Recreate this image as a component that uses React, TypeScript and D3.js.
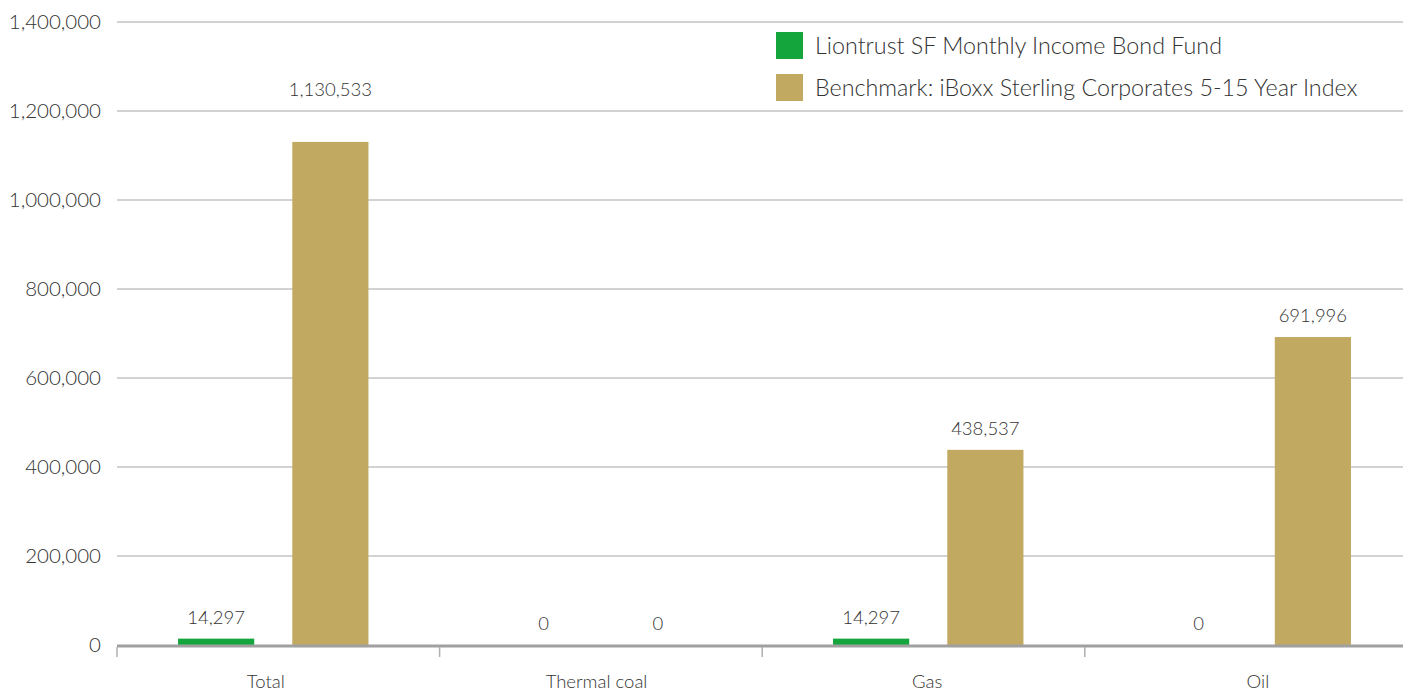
import * as d3 from 'd3';
import React, { useRef, useEffect } from 'react';

const categories = ['Total', 'Thermal coal', 'Gas', 'Oil'];
const fundValues = [14297, 0, 14297, 0];
const benchmarkValues = [1130533, 0, 438537, 691996];
const seriesNames = [
  'Liontrust SF Monthly Income Bond Fund',
  'Benchmark: iBoxx Sterling Corporates 5-15 Year Index',
];
const yTicks = [0, 200000, 400000, 600000, 800000, 1000000, 1200000, 1400000];

const colors = ['#14a53c', '#c2a961'];
const font = 'Lato, "Open Sans", sans-serif';

function BarChart({ width, height }: { width: number; height: number }) {
  const ref = useRef<SVGSVGElement>(null);

  useEffect(() => {
    const svg = d3.select(ref.current);
    svg.selectAll('*').remove();

    const left = 117;
    const right = 1403;
    const top = 22;
    const bottom = 645;

    // tick positions, bar groups and labels sit on slightly different grids
    const xTicks = d3.scaleBand<string>().domain(categories).range([left, left + 4 * 322.6]);
    const xBars = d3.scaleBand<string>().domain(categories).range([109.5, 109.5 + 4 * 327.5]);
    const xLabels = d3.scaleBand<string>().domain(categories).range([100.5, 100.5 + 4 * 330.7]);
    const inner = d3
      .scaleBand<number>()
      .domain([0, 1])
      .range([0, xBars.bandwidth()])
      .paddingInner(1 / 3)
      .paddingOuter(0.6);
    const y = d3.scaleLinear().domain([0, 1400000]).range([bottom, top]);

    // grid
    svg
      .append('g')
      .selectAll('line')
      .data(yTicks.filter((t) => t > 0))
      .enter()
      .append('line')
      .attr('x1', left)
      .attr('x2', right)
      .attr('y1', (d) => y(d))
      .attr('y2', (d) => y(d))
      .attr('stroke', '#a6a6a6')
      .attr('stroke-width', 1);

    // y labels
    svg
      .append('g')
      .selectAll('text')
      .data(yTicks)
      .enter()
      .append('text')
      .attr('x', 101)
      .attr('y', (d) => y(d) + 7)
      .attr('text-anchor', 'end')
      .attr('font-family', font)
      .attr('font-size', 20.5)
      .attr('font-weight', 300)
      .attr('fill', '#333')
      .text((d) => d3.format(',')(d));

    const series = [fundValues, benchmarkValues];
    series.forEach((vals, si) => {
      const g = svg.append('g');
      g.selectAll('rect')
        .data(vals)
        .enter()
        .append('rect')
        .attr('x', (d, i) => xBars(categories[i])! + inner(si)!)
        .attr('width', inner.bandwidth())
        .attr('y', (d) => y(d))
        .attr('height', (d) => bottom - y(d))
        .attr('fill', colors[si]);

      g.selectAll('text')
        .data(vals)
        .enter()
        .append('text')
        .attr('x', (d, i) => xBars(categories[i])! + inner(si)! + inner.bandwidth() / 2)
        .attr('y', (d) => y(d) - (d > 1000000 ? 46 : 15))
        .attr('text-anchor', 'middle')
        .attr('font-family', font)
        .attr('font-size', 18.5)
        .attr('font-weight', 300)
        .attr('fill', '#333')
        .text((d) => d3.format(',')(d));
    });

    // axis
    svg
      .append('line')
      .attr('x1', left)
      .attr('x2', right)
      .attr('y1', bottom + 1)
      .attr('y2', bottom + 1)
      .attr('stroke', '#a0a0a0')
      .attr('stroke-width', 3);

    svg
      .append('g')
      .selectAll('line')
      .data(categories)
      .enter()
      .append('line')
      .attr('x1', (d) => xTicks(d)!)
      .attr('x2', (d) => xTicks(d)!)
      .attr('y1', bottom + 2)
      .attr('y2', bottom + 12)
      .attr('stroke', '#b0b0b0')
      .attr('stroke-width', 1.5);

    svg
      .append('g')
      .selectAll('text')
      .data(categories)
      .enter()
      .append('text')
      .attr('x', (d) => xLabels(d)! + xLabels.bandwidth() / 2)
      .attr('y', 688)
      .attr('text-anchor', 'middle')
      .attr('font-family', font)
      .attr('font-size', 18.5)
      .attr('font-weight', 300)
      .attr('fill', '#333')
      .text((d) => d);

    // legend
    const legend = svg.append('g').attr('transform', 'translate(776, 32)');
    seriesNames.forEach((name, i) => {
      legend
        .append('rect')
        .attr('x', 0)
        .attr('y', i * 42)
        .attr('width', 27)
        .attr('height', 27)
        .attr('fill', colors[i]);
      legend
        .append('text')
        .attr('x', 39)
        .attr('y', i * 42 + 22)
        .attr('font-family', font)
        .attr('font-size', 23.3)
        .attr('font-weight', 300)
        .attr('fill', '#333')
        .text(name);
    });
  }, [width, height]);

  return <svg ref={ref} width={width} height={height} style={{ display: 'block' }} />;
}

export default function App() {
  return (
    <div style={{ position: 'absolute', left: 0, top: 0, background: '#fff' }}>
      <BarChart width={1403} height={691} />
    </div>
  );
}
